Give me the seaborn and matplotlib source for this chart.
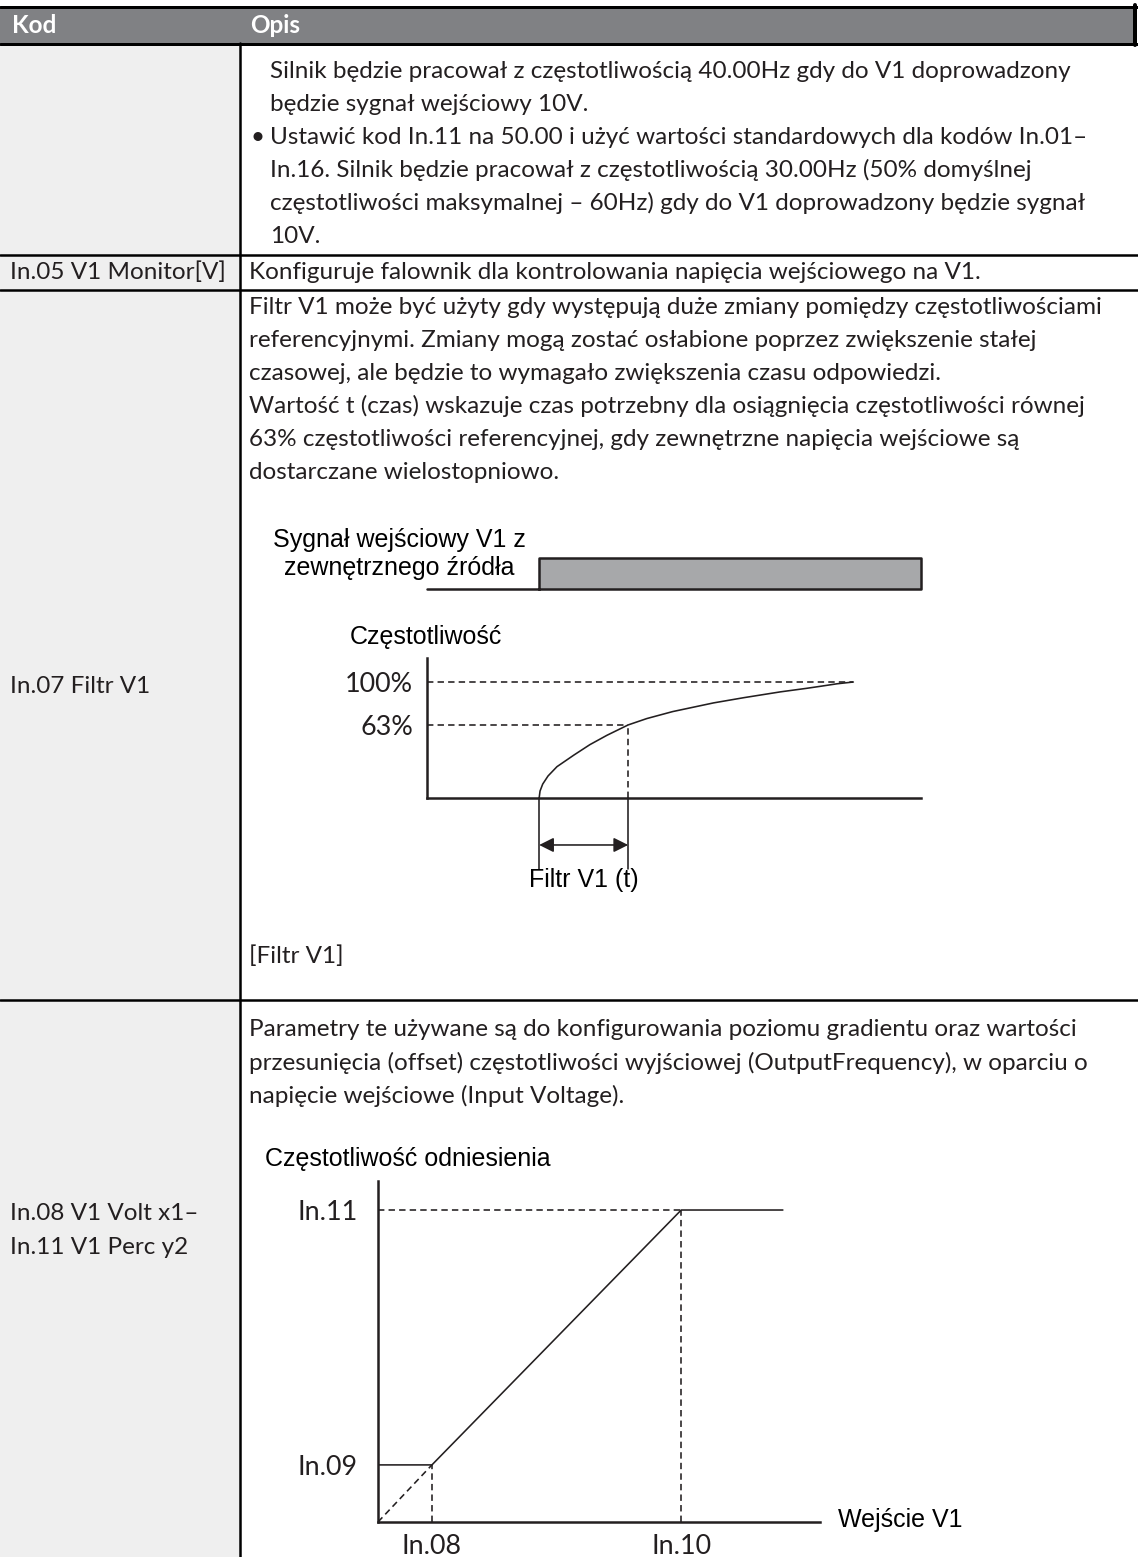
import matplotlib
matplotlib.use("Agg")
import matplotlib.pyplot as plt
import seaborn as sns
from matplotlib.patches import Rectangle
from matplotlib.textpath import TextPath
from matplotlib.font_manager import FontProperties

sns.set_theme(style="white")
plt.rcParams['font.family'] = ['Lato', 'DejaVu Sans']

W, H, DPI = 1138, 1557, 100
INK = '#231f20'
HEAD_GRAY = '#808184'
LEFT_GRAY = '#efefef'
SIGNAL_GRAY = '#a7a8aa'
BODY_FONT = ['Lato', 'DejaVu Sans']
DIAG_FONT = ['Liberation Sans', 'DejaVu Sans']

# ==========================================
# TEXT CONTENT
# ==========================================
HEADER = ['Kod', 'Opis']
ROW1_LINES = [
    'Silnik będzie pracował z częstotliwością 40.00Hz gdy do V1 doprowadzony',
    'będzie sygnał wejściowy 10V.',
    'Ustawić kod In.11 na 50.00 i użyć wartości standardowych dla kodów In.01–',
    'In.16. Silnik będzie pracował z częstotliwością 30.00Hz (50% domyślnej',
    'częstotliwości maksymalnej – 60Hz) gdy do V1 doprowadzony będzie sygnał',
    '10V.',
]
ROW2_CODE = 'In.05 V1 Monitor[V]'
ROW2_TEXT = 'Konfiguruje falownik dla kontrolowania napięcia wejściowego na V1.'
ROW3_CODE = 'In.07 Filtr V1'
ROW3_LINES = [
    'Filtr V1 może być użyty gdy występują duże zmiany pomiędzy częstotliwościami',
    'referencyjnymi. Zmiany mogą zostać osłabione poprzez zwiększenie stałej',
    'czasowej, ale będzie to wymagało zwiększenia czasu odpowiedzi.',
    'Wartość t (czas) wskazuje czas potrzebny dla osiągnięcia częstotliwości równej',
    '63% częstotliwości referencyjnej, gdy zewnętrzne napięcia wejściowe są',
    'dostarczane wielostopniowo.',
]
ROW3_CAPTION = '[Filtr V1]'
ROW4_CODE = ['In.08 V1 Volt x1–', 'In.11 V1 Perc y2']
ROW4_LINES = [
    'Parametry te używane są do konfigurowania poziomu gradientu oraz wartości',
    'przesunięcia (offset) częstotliwości wyjściowej (OutputFrequency), w oparciu o',
    'napięcie wejściowe (Input Voltage).',
]

# ==========================================
# DIAGRAM 1 DATA (filter response, t in units of the filter time)
# ==========================================
SIGNAL_T = [-1.26, 0.0, 0.0, 4.29, 4.29, 0.0]
SIGNAL_LEVEL = [0, 0, 1, 1, 0, 0]
CURVE_T = [0.0, 0.01, 0.04, 0.1, 0.2, 0.39, 0.57, 0.76, 1.0, 1.21, 1.5, 1.96,
           2.3, 2.71, 3.0, 3.16, 3.35, 3.53]
CURVE_PCT = [0, 6, 12, 19, 27, 37, 46, 54, 63, 68.5, 74.5, 82,
             86.5, 91.5, 94.5, 96.3, 98.5, 100]
LEVEL_PCT = [63, 100]
LEVEL_LABELS = ['63%', '100%']
LEVEL_END_T = [1.0, 3.53]
FILTER_SPAN = [0.0, 1.0]

# ==========================================
# DIAGRAM 2 DATA (reference frequency vs V1 input)
# ==========================================
V1_X = [0.0, 1.22, 6.86, 9.16]
FREQ_Y = [18.3, 18.3, 100, 100]
X_TICKS = [1.22, 6.86]
X_LABELS = ['In.08', 'In.10']
Y_TICKS = [18.3, 100]
Y_LABELS = ['In.09', 'In.11']


def px(v):
    # pixel size -> points
    return v * 72 / DPI


def fit_size(s, width_px, family):
    tp = TextPath((0, 0), s, size=72, prop=FontProperties(family=family))
    return 72 * width_px / tp.get_extents().width * 72 / DPI


def ax_rect(x0, y0, x1, y1):
    # pixel box (top-left origin) -> figure fraction
    return [x0 / W, 1 - y1 / H, (x1 - x0) / W, (y1 - y0) / H]


BODY_SIZE = fit_size(ROW1_LINES[0], 800, BODY_FONT)
LABEL_SIZE = fit_size('100%', 65, BODY_FONT)
DIAG_SIZE = 18

fig = plt.figure(figsize=(W / DPI, H / DPI), dpi=DPI)
fig.patch.set_facecolor('white')

# ---------- table ----------
page = fig.add_axes([0, 0, 1, 1])
page.set_xlim(0, W)
page.set_ylim(H, 0)
page.axis('off')

page.add_patch(Rectangle((0, 44), 240, H - 44, color=LEFT_GRAY, lw=0))
page.add_patch(Rectangle((0, 7), 1135, 36, color=HEAD_GRAY, lw=0))
page.plot([0, W], [6.5, 6.5], color='black', lw=px(3))
page.plot([0, W], [43.5, 43.5], color='black', lw=px(3))
page.plot([1135.5, 1135.5], [5, 45], color='black', lw=px(4))
page.plot([240.5, 240.5], [43, H], color='black', lw=px(2.5))
for yl in [255, 290, 1000]:
    page.plot([0, W], [yl, yl], color='black', lw=px(2.5))

page.text(12, 25, HEADER[0], color='white', fontsize=BODY_SIZE, weight='bold', va='center')
page.text(250, 25, HEADER[1], color='white', fontsize=BODY_SIZE, weight='bold', va='center')

pitch = 33
for i, line in enumerate(ROW1_LINES):
    page.text(270, 71 + i * pitch, line, color=INK, fontsize=BODY_SIZE, va='center')
page.text(251, 71 + 2 * pitch, '•', color=INK, fontsize=BODY_SIZE, va='center')

page.text(10, 272, ROW2_CODE, color=INK, fontsize=BODY_SIZE, va='center')
page.text(249, 272, ROW2_TEXT, color=INK, fontsize=BODY_SIZE, va='center')

page.text(10, 686, ROW3_CODE, color=INK, fontsize=BODY_SIZE, va='center')
for i, line in enumerate(ROW3_LINES):
    page.text(249, 307 + i * pitch, line, color=INK, fontsize=BODY_SIZE, va='center')
page.text(249, 956, ROW3_CAPTION, color=INK, fontsize=BODY_SIZE, va='center')

for i, line in enumerate(ROW4_CODE):
    page.text(10, 1214 + i * 34, line, color=INK, fontsize=BODY_SIZE, va='center')
for i, line in enumerate(ROW4_LINES):
    page.text(249, 1030 + i * pitch, line, color=INK, fontsize=BODY_SIZE, va='center')

# diagram titles
page.text(399, 540, 'Sygnał wejściowy V1 z', family=DIAG_FONT, fontsize=DIAG_SIZE,
          color='black', ha='center', va='center')
page.text(399, 568, 'zewnętrznego źródła', family=DIAG_FONT, fontsize=DIAG_SIZE,
          color='black', ha='center', va='center')
page.text(426, 637, 'Częstotliwość', family=DIAG_FONT, fontsize=DIAG_SIZE,
          color='black', ha='center', va='center')
page.text(265, 1159, 'Częstotliwość odniesienia', family=DIAG_FONT, fontsize=DIAG_SIZE,
          color='black', ha='left', va='center')
page.text(838, 1520, 'Wejście V1', family=DIAG_FONT, fontsize=DIAG_SIZE,
          color='black', ha='left', va='center')

LW = px(1.6)
DASH = (0, (4, 2.6))

# ---------- diagram 1: input signal ----------
sig = fig.add_axes(ax_rect(427, 558, 921, 589))
sig.set_xlim(-1.26, 4.29)
sig.set_ylim(0, 1)
sig.axis('off')
sig.fill_between([0, 4.29], 0, 1, color=SIGNAL_GRAY, lw=0)
sns.lineplot(x=SIGNAL_T, y=SIGNAL_LEVEL, sort=False, estimator=None, ax=sig,
             color=INK, lw=px(2.5), clip_on=False)

# ---------- diagram 1: frequency response ----------
ax1 = fig.add_axes(ax_rect(427, 658, 921, 798))
ax1.set_facecolor('none')
ax1.set_xlim(-1.26, 4.29)
ax1.set_ylim(0, 120.7)
sns.despine(ax=ax1, top=True, right=True)
for sp in ['left', 'bottom']:
    ax1.spines[sp].set_color(INK)
    ax1.spines[sp].set_linewidth(px(2.5))
ax1.set_xticks([])
ax1.set_yticks(LEVEL_PCT)
ax1.set_yticklabels(LEVEL_LABELS, fontsize=LABEL_SIZE, color=INK)
ax1.tick_params(axis='y', length=0, pad=px(14))
ax1.grid(False)

sns.lineplot(x=CURVE_T, y=CURVE_PCT, sort=False, estimator=None, ax=ax1,
             color=INK, lw=LW)
for lvl, end in zip(LEVEL_PCT, LEVEL_END_T):
    ax1.plot([-1.26, end], [lvl, lvl], color=INK, lw=LW, ls=DASH)
ax1.plot([FILTER_SPAN[1], FILTER_SPAN[1]], [0, LEVEL_PCT[0]], color=INK, lw=LW, ls=DASH)
for t in FILTER_SPAN:
    ax1.plot([t, t], [0, -61], color=INK, lw=LW, clip_on=False)
ax1.annotate('', xy=(FILTER_SPAN[0], -40.5), xytext=(FILTER_SPAN[1], -40.5),
             arrowprops=dict(arrowstyle='<|-|>', color=INK, lw=LW,
                             mutation_scale=22, shrinkA=0, shrinkB=0),
             annotation_clip=False)
ax1.text(sum(FILTER_SPAN) / 2, -70.7, 'Filtr V1 (t)', family=DIAG_FONT, fontsize=DIAG_SIZE,
         color='black', ha='center', va='center', clip_on=False)

# ---------- diagram 2: reference frequency ----------
ax2 = fig.add_axes(ax_rect(378, 1181, 820, 1522))
ax2.set_facecolor('none')
ax2.set_xlim(0, 10)
ax2.set_ylim(0, 109.3)
sns.despine(ax=ax2, top=True, right=True)
for sp in ['left', 'bottom']:
    ax2.spines[sp].set_color(INK)
    ax2.spines[sp].set_linewidth(px(2.5))
ax2.set_xticks(X_TICKS)
ax2.set_xticklabels(X_LABELS, fontsize=LABEL_SIZE, color=INK)
ax2.set_yticks(Y_TICKS)
ax2.set_yticklabels(Y_LABELS, fontsize=LABEL_SIZE, color=INK)
ax2.tick_params(axis='x', length=0, pad=px(12))
ax2.tick_params(axis='y', length=0, pad=px(20))
ax2.grid(False)

sns.lineplot(x=V1_X, y=FREQ_Y, sort=False, estimator=None, ax=ax2,
             color=INK, lw=LW)
ax2.plot([0, V1_X[1]], [0, FREQ_Y[1]], color=INK, lw=LW, ls=DASH)
ax2.plot([0, V1_X[2]], [FREQ_Y[2], FREQ_Y[2]], color=INK, lw=LW, ls=DASH)
for xv, yv in zip(V1_X[1:3], FREQ_Y[1:3]):
    ax2.plot([xv, xv], [0, yv], color=INK, lw=LW, ls=DASH)

fig.savefig('out.png', dpi=DPI, facecolor='white')
